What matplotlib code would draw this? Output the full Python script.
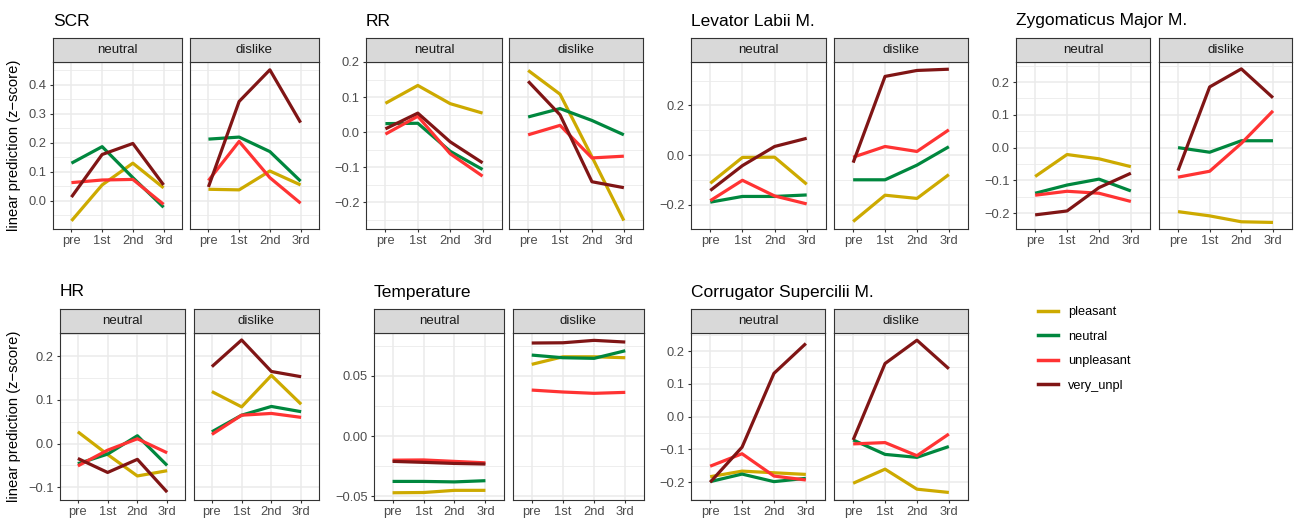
import numpy as np
import matplotlib
matplotlib.use("Agg")
import matplotlib.pyplot as plt
from matplotlib.ticker import FixedLocator
from matplotlib.lines import Line2D

plt.rcParams['font.family'] = ['Liberation Sans', 'DejaVu Sans']

# ---- data -------------------------------------------------------------
phases = ["pre", "1st", "2nd", "3rd"]
facets = ["neutral", "dislike"]
conditions = ["pleasant", "neutral", "unpleasant", "very_unpl"]
colors = {"pleasant": "#CDAA00", "neutral": "#00873E",
          "unpleasant": "#FF3333", "very_unpl": "#801515"}

scr_neutral = {"pleasant": [-0.069, 0.055, 0.130, 0.045],
               "neutral": [0.130, 0.187, 0.080, -0.022],
               "unpleasant": [0.063, 0.072, 0.074, -0.012],
               "very_unpl": [0.013, 0.160, 0.198, 0.055]}
scr_dislike = {"pleasant": [0.040, 0.038, 0.103, 0.055],
               "neutral": [0.213, 0.220, 0.170, 0.068],
               "unpleasant": [0.070, 0.205, 0.080, -0.008],
               "very_unpl": [0.048, 0.343, 0.452, 0.270]}

rr_neutral = {"pleasant": [0.082, 0.133, 0.081, 0.054],
              "neutral": [0.024, 0.025, -0.055, -0.107],
              "unpleasant": [-0.006, 0.045, -0.062, -0.126],
              "very_unpl": [0.009, 0.054, -0.028, -0.088]}
rr_dislike = {"pleasant": [0.176, 0.108, -0.071, -0.253],
              "neutral": [0.043, 0.067, 0.033, -0.008],
              "unpleasant": [-0.008, 0.019, -0.074, -0.069],
              "very_unpl": [0.145, 0.049, -0.142, -0.159]}

lev_neutral = {"pleasant": [-0.113, -0.009, -0.008, -0.117],
               "neutral": [-0.189, -0.166, -0.166, -0.160],
               "unpleasant": [-0.183, -0.101, -0.164, -0.196],
               "very_unpl": [-0.142, -0.042, 0.035, 0.068]}
lev_dislike = {"pleasant": [-0.267, -0.161, -0.174, -0.078],
               "neutral": [-0.099, -0.099, -0.040, 0.034],
               "unpleasant": [-0.008, 0.035, 0.015, 0.102],
               "very_unpl": [-0.030, 0.317, 0.341, 0.346]}

zyg_neutral = {"pleasant": [-0.088, -0.021, -0.034, -0.058],
               "neutral": [-0.139, -0.114, -0.096, -0.132],
               "unpleasant": [-0.145, -0.133, -0.139, -0.164],
               "very_unpl": [-0.205, -0.193, -0.122, -0.078]}
zyg_dislike = {"pleasant": [-0.195, -0.208, -0.226, -0.228],
               "neutral": [0.000, -0.014, 0.021, 0.021],
               "unpleasant": [-0.090, -0.072, 0.013, 0.112],
               "very_unpl": [-0.070, 0.185, 0.240, 0.152]}

hr_neutral = {"pleasant": [0.027, -0.025, -0.074, -0.062],
              "neutral": [-0.046, -0.024, 0.018, -0.050],
              "unpleasant": [-0.051, -0.015, 0.011, -0.021],
              "very_unpl": [-0.034, -0.066, -0.036, -0.111]}
hr_dislike = {"pleasant": [0.119, 0.084, 0.156, 0.090],
              "neutral": [0.027, 0.065, 0.085, 0.073],
              "unpleasant": [0.021, 0.065, 0.069, 0.060],
              "very_unpl": [0.176, 0.237, 0.165, 0.153]}

temp_neutral = {"pleasant": [-0.0470, -0.0468, -0.0450, -0.0450],
                "neutral": [-0.0376, -0.0376, -0.0380, -0.0370],
                "unpleasant": [-0.0200, -0.0198, -0.0210, -0.0222],
                "very_unpl": [-0.0210, -0.0218, -0.0227, -0.0232]}
temp_dislike = {"pleasant": [0.0594, 0.0657, 0.0657, 0.0649],
                "neutral": [0.0671, 0.0649, 0.0644, 0.0707],
                "unpleasant": [0.0381, 0.0365, 0.0354, 0.0362],
                "very_unpl": [0.0771, 0.0773, 0.0793, 0.0779]}

cor_neutral = {"pleasant": [-0.183, -0.166, -0.171, -0.176],
               "neutral": [-0.198, -0.175, -0.198, -0.188],
               "unpleasant": [-0.151, -0.113, -0.181, -0.193],
               "very_unpl": [-0.200, -0.093, 0.132, 0.223]}
cor_dislike = {"pleasant": [-0.203, -0.160, -0.221, -0.231],
               "neutral": [-0.071, -0.115, -0.124, -0.091],
               "unpleasant": [-0.083, -0.079, -0.119, -0.053],
               "very_unpl": [-0.071, 0.162, 0.233, 0.146]}

# ---- layout (pixel units) ---------------------------------------------
W, H = 1298, 519
fig = plt.figure(figsize=(W / 100, H / 100), dpi=100)

def fbox(x0, y0, x1, y1):
    return [x0 / W, 1 - y1 / H, (x1 - x0) / W, (y1 - y0) / H]

groups = [
    # title, data pair, x-ranges of the two panels, row, y-limits, major step, tick format
    ("SCR", (scr_neutral, scr_dislike), [(53, 182), (190, 319)], 0, (-0.097, 0.479), 0.1, "{:.1f}"),
    ("RR", (rr_neutral, rr_dislike), [(366, 502), (509, 643)], 0, (-0.277, 0.200), 0.1, "{:.1f}"),
    ("Levator Labii M.", (lev_neutral, lev_dislike), [(691, 826), (834, 968)], 0, (-0.297, 0.375), 0.2, "{:.1f}"),
    ("Zygomaticus Major M.", (zyg_neutral, zyg_dislike), [(1016, 1150), (1159, 1292)], 0, (-0.248, 0.261), 0.1, "{:.1f}"),
    ("HR", (hr_neutral, hr_dislike), [(60, 185), (194, 319)], 1, (-0.129, 0.253), 0.1, "{:.1f}"),
    ("Temperature", (temp_neutral, temp_dislike), [(374, 504), (513, 644)], 1, (-0.053, 0.0854), 0.05, "{:.2f}"),
    ("Corrugator Supercilii M.", (cor_neutral, cor_dislike), [(691, 825), (834, 968)], 1, (-0.254, 0.255), 0.1, "{:.1f}"),
]

rows = [dict(strip=(38, 62), panel=(62, 229), title_y=21),
        dict(strip=(309, 333), panel=(333, 500), title_y=292)]

GRID = "#EBEBEB"
BORDER = "#333333"
TXT = "#4D4D4D"
TICK_FS = 9.3
xpos = np.arange(len(phases))

def tick_label(v, fmt):
    v = round(v, 6) + 0.0
    if abs(v) < 1e-9:
        v = 0.0
    return fmt.format(v).replace("-", "\u2212")

for title, pair, xr, r, ylim, step, fmt in groups:
    row = rows[r]
    sy0, sy1 = row["strip"]
    py0, py1 = row["panel"]
    fig.text(xr[0][0] / W, 1 - row["title_y"] / H, title, fontsize=12.5,
             ha="left", va="center", color="black")
    for k, (data, (x0, x1)) in enumerate(zip(pair, xr)):
        ax = fig.add_axes(fbox(x0, py0, x1, py1))
        ax.set_xlim(-0.6, 3.6)
        ax.set_ylim(*ylim)
        major = np.arange(np.ceil(ylim[0] / step - 1e-9) * step, ylim[1] + 1e-9, step)
        major = np.round(major, 6)
        minor = np.arange(np.floor(ylim[0] / step) * step - step / 2, ylim[1] + step, step)
        minor = minor[(minor > ylim[0]) & (minor < ylim[1])]
        ax.yaxis.set_major_locator(FixedLocator(major))
        ax.yaxis.set_minor_locator(FixedLocator(minor))
        ax.set_xticks(xpos)
        ax.set_xticklabels(phases)
        for m in minor:
            ax.axhline(m, color=GRID, lw=0.6, zorder=0)
        for m in major:
            ax.axhline(m, color=GRID, lw=1.1, zorder=0)
        for xx in xpos:
            ax.axvline(xx, color=GRID, lw=1.1, zorder=0)
        for c in conditions:
            ax.plot(xpos, data[c], color=colors[c], lw=2.3,
                    solid_capstyle="butt", solid_joinstyle="round", zorder=3)
        for s in ax.spines.values():
            s.set_color(BORDER)
            s.set_linewidth(0.8)
        ax.tick_params(axis="both", which="major", length=2.5, width=0.8,
                       color=BORDER, labelsize=TICK_FS, labelcolor=TXT, pad=2)
        ax.tick_params(axis="y", which="minor", length=0)
        if k == 0:
            ax.set_yticklabels([tick_label(v, fmt) for v in major])
        else:
            ax.tick_params(axis="y", which="major", length=0, labelleft=False)
        # facet strip
        sx = fig.add_axes(fbox(x0, sy0, x1, sy1))
        sx.set_facecolor("#D9D9D9")
        sx.set_xticks([])
        sx.set_yticks([])
        for s in sx.spines.values():
            s.set_color(BORDER)
            s.set_linewidth(0.8)
        sx.text(0.5, 0.5, facets[k], ha="center", va="center",
                fontsize=9.5, color="#1A1A1A", transform=sx.transAxes)

# y-axis titles
for r in rows:
    py0, py1 = r["panel"]
    fig.text(14 / W, 1 - ((py0 + py1) / 2) / H, "linear prediction (z\u2212score)",
             rotation=90, ha="center", va="center", fontsize=10.6, color="black")

# legend
handles = [Line2D([0], [0], color=colors[c], lw=2.5) for c in conditions]
fig.legend(handles, conditions, loc="upper left",
           bbox_to_anchor=(1033 / W, 1 - 301 / H), frameon=False,
           fontsize=9.2, handlelength=1.55, handletextpad=0.8,
           labelspacing=0.98, borderaxespad=0)

fig.savefig("out.png", dpi=100)
